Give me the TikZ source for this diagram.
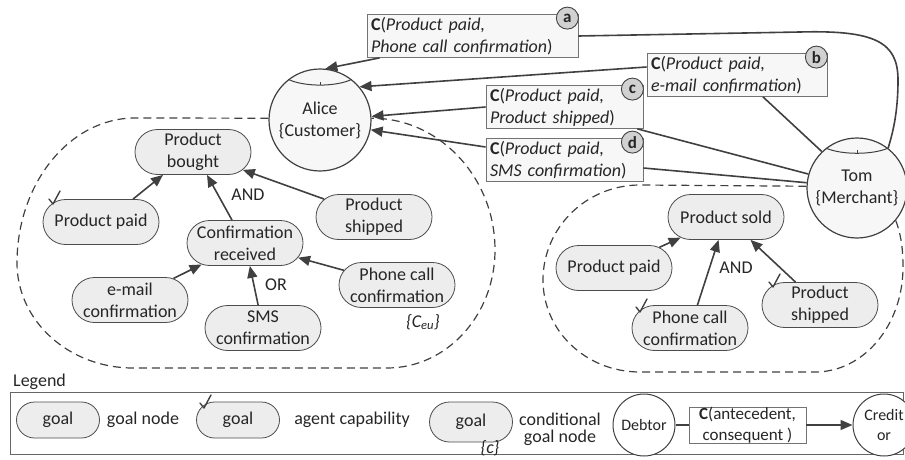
\documentclass[tikz,border=0pt]{standalone}
\usepackage{fontspec}
\setmainfont{Carlito}
\usetikzlibrary{arrows.meta,calc,shapes.misc}
\begin{document}
\begin{tikzpicture}[x=1pt,y=-1pt,
  every node/.style={font=\fontsize{18}{22}\selectfont, text=black!85},
  ln/.style={draw=black!75, line width=1.6pt},
  arr/.style={ln, -{Triangle[length=12pt,width=10pt]}},
  goal/.style={rounded rectangle, draw=black!70, fill=black!7, line width=0.8pt, minimum width=116pt, minimum height=45pt, align=center, inner sep=0pt},
  lgoal/.style={goal, minimum width=83pt, minimum height=36pt},
  agent/.style={circle, draw=black!75, line width=1.2pt, fill=black!3, minimum size=102pt, inner sep=0pt, align=center},
  lagent/.style={circle, draw=black!75, line width=1pt, fill=white, minimum size=62pt, inner sep=0pt, align=center, font=\fontsize{16}{20}\selectfont},
  cbox/.style={draw=black!55, fill=black!3, line width=0.8pt, align=left, inner xsep=4pt, inner ysep=0pt, minimum height=43pt},
  badge/.style={circle, draw=black!75, fill=black!18, line width=0.9pt, minimum size=22pt, inner sep=0pt, font=\fontsize{17}{17}\selectfont\bfseries},
  region/.style={draw=black!75, line width=1.2pt, dash pattern=on 8pt off 5pt},
  lbl/.style={inner sep=0pt},
  chk/.pic={\draw[black!75, line width=1.4pt, line cap=round, line join=round] (-4,-5) -- (0,0) -- (7,-13);},
  agcap/.style={draw=black!75, line width=1pt}
]
\useasboundingbox (0,0) rectangle (905,460);

% agents
\node[agent] (alice) at (320,120) {Alice\\\{Customer\}};
\node[agent, minimum size=100pt] (tom) at (857,188) {Tom\\\{Merchant\}};
\draw[agcap] (alice.52) .. controls ($(alice.center)+(16,-33)$) and ($(alice.center)+(-16,-33)$) .. (alice.128);
\draw[agcap] ($(alice.center)+(0,-35)$) -- ($(alice.center)+(0,-38)$);
\draw[agcap] (tom.52) .. controls ($(tom.center)+(15,-33)$) and ($(tom.center)+(-15,-33)$) .. (tom.128);
\draw[agcap] ($(tom.center)+(0,-35)$) -- ($(tom.center)+(0,-38)$);

% dashed regions
\draw[region] (alice.178) -- (135,118) .. controls (70,118) and (17,183) .. (17,263)
  .. controls (17,321) and (69,368) .. (133,368) -- (387,368)
  .. controls (447,368) and (495,315) .. (495,250)
  .. controls (495,177) and (439,118) .. (alice.2);
\draw[region] (tom.178) -- (640,185) .. controls (586,185) and (543,228) .. (543,280)
  .. controls (543,331) and (586,372) .. (640,372) -- (815,372)
  .. controls (864,372) and (903,325) .. (903,267)
  .. controls (903,245) and (900,232) .. (tom.-40);

% left goal model
\node[goal] (pb) at (193,152) {Product\\bought};
\node[goal] (pp1) at (101,222) {Product paid};
\node[goal] (cr) at (245,243) {Confirmation\\received};
\node[goal] (ps1) at (374,217) {Product\\shipped};
\node[goal] (em) at (130,300) {e-mail\\confirmation};
\node[goal] (sms) at (263,328) {SMS\\confirmation};
\node[goal] (pc1) at (397,285) {Phone call\\confirmation};
\node[lbl] (ceu) at (423,322) {\textit{\{C\textsubscript{eu}\}}};
\node[lbl] (and1) at (248,195) {AND};
\node[lbl] (or1) at (276,285) {OR};
\pic at (53,204) {chk};

\draw[arr] ([xshift=32pt]pp1.north) -- ([xshift=-30pt]pb.south);
\draw[arr] ([xshift=-13pt]cr.north) -- ([xshift=14pt]pb.south);
\draw[arr] (ps1) -- (pb);
\draw[arr] (em) -- (cr);
\draw[arr] (sms) -- (cr);
\draw[arr] (pc1) -- (cr);

% right goal model
\node[goal] (psold) at (726,217) {Product sold};
\node[goal] (pp2) at (614,268) {Product paid};
\node[goal] (pc2) at (690,328) {Phone call\\confirmation};
\node[goal] (ps2) at (820,305) {Product\\shipped};
\node[lbl] (and2) at (736,268) {AND};
\pic at (640,312) {chk};
\pic at (773,287) {chk};

\draw[arr] (pp2) -- (psold);
\draw[arr] (pc2) -- (psold);
\draw[arr] (ps2) -- (psold);

% commitments
\node[cbox, text width=203pt] (ca) at (472.5,36) {\textbf{C}(\textit{Product paid,}\\\textit{Phone call confirmation})};
\node[cbox, text width=172pt] (cb) at (737,75) {\textbf{C}(\textit{Product paid,}\\\textit{e-mail confirmation})};
\node[cbox, text width=149pt] (cc) at (564.5,107) {\textbf{C}(\textit{Product paid,}\\\textit{Product shipped})};
\node[cbox, text width=149pt] (cd) at (564.5,160) {\textbf{C}(\textit{Product paid,}\\\textit{SMS confirmation})};
\node[badge] (ba) at ([xshift=-11pt,yshift=-4pt]ca.north east) {a};
\node[badge] (bb) at ([xshift=-11pt,yshift=-4pt]cb.north east) {b};
\node[badge] (bc) at ([xshift=-11pt,yshift=-4pt]cc.north east) {c};
\node[badge] (bd) at ([xshift=-11pt,yshift=-4pt]cd.north east) {d};

\draw[arr] ([xshift=13pt]ca.south west) -- (alice.84);
\draw[ln] (ca.east) -- (800,32) .. controls (875,30) and (898,42) .. (898,80)
  .. controls (898,115) and (892,135) .. (tom.52);
\draw[arr] ([yshift=8pt]cb.west) -- (alice.40);
\draw[ln] ([xshift=26pt]cb.south) -- (tom.134);
\draw[arr] (cc.west) -- (alice.4);
\draw[ln] ([xshift=-6pt]cc.south east) -- (tom.164);
\draw[arr] ([yshift=13pt]cd.west) -- (alice.-11);
\draw[ln] ([yshift=-8pt]cd.east) -- (tom.174);

% legend
\node[lbl, anchor=west] (legt) at (13,382) {Legend};
\draw[draw=black!60, line width=0.8pt] (10,392) rectangle (903,454);
\node[lgoal] (lg1) at (58,420) {goal};
\node[lbl] (lt1) at (143,420) {goal node};
\node[lgoal] (lg2) at (238,420) {goal};
\pic at (204,408) {chk};
\node[lbl] (lt2) at (352,420) {agent capability};
\node[lgoal, minimum height=40pt] (lg3) at (471,422) {goal};
\node[lbl] (lc) at (490,448) {\textit{\{c\}}};
\node[lbl, align=center, font=\fontsize{18}{17}\selectfont] (lt3) at (560,429) {conditional\\goal node};
\node[lagent] (deb) at (644,425) {Debtor};
\node[cbox, align=center, minimum width=117pt, minimum height=36pt, fill=white, font=\fontsize{17}{21}\selectfont] (lbox) at (747.5,425) {\textbf{C}(antecedent,\\ consequent )};
\node[lagent] (cred) at (884,425) {Credit\\or};
\draw[ln] (deb) -- (lbox);
\draw[arr] (lbox) -- (cred);
\end{tikzpicture}
\end{document}
